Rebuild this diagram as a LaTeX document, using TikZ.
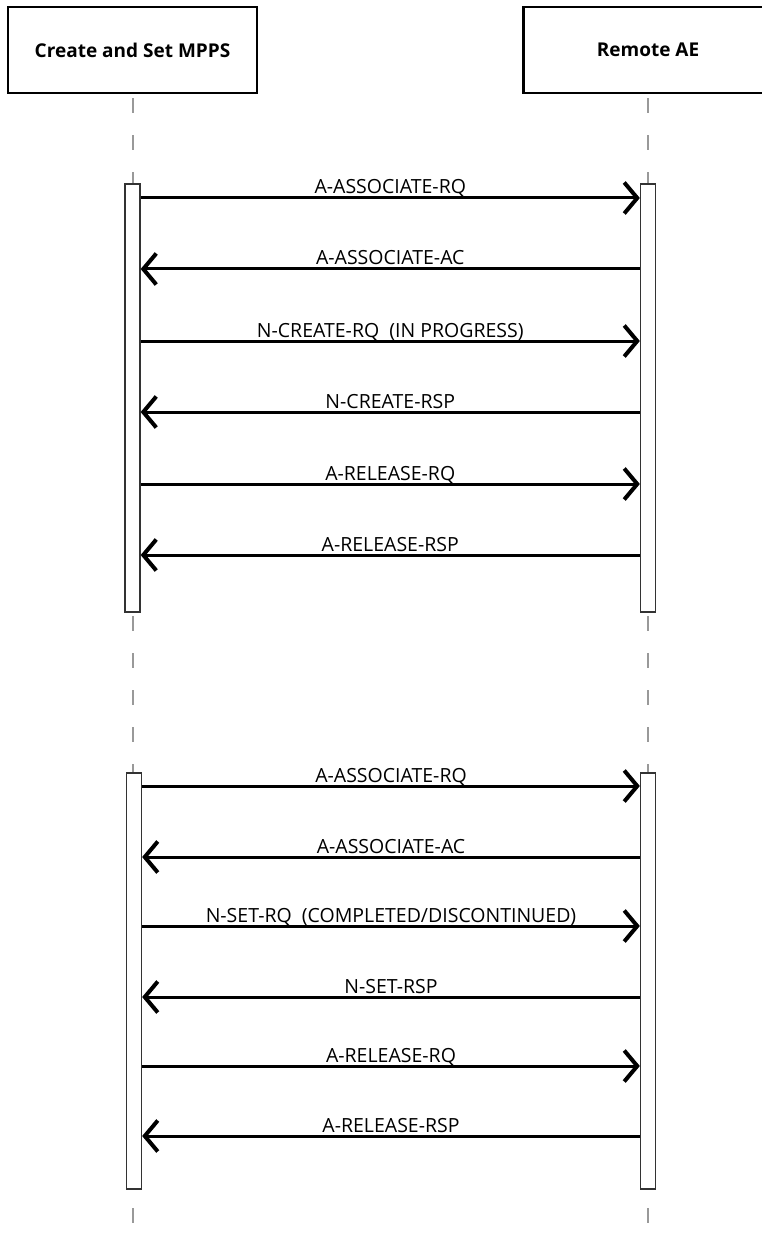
\documentclass[tikz,border=0pt]{standalone}
\usepackage{fontspec}
\setmainfont{Open Sans}
\usetikzlibrary{arrows.meta}

\begin{document}
\begin{tikzpicture}[x=1pt,y=-1pt,>={Straight Barb[length=13pt,width=31pt,line width=4pt]},
                    font=\fontsize{19.5}{23}\selectfont]
  \tikzstyle{actor}=[rectangle,draw=black,line width=2.3pt,fill=white,minimum width=249,minimum height=86,font=\fontsize{19}{23}\selectfont\bfseries]
  \tikzstyle{lifeline}=[draw=black!40,line width=2pt,dash pattern=on 15pt off 22pt]
  \tikzstyle{activation}=[rectangle,draw=black!80,line width=1.3pt,fill=white,minimum width=15,inner sep=0pt]
  \tikzstyle{signal}=[->,line width=3pt]
  \tikzstyle{tag}=[anchor=base,yshift=4pt,inner sep=0pt]

  \useasboundingbox (0,0) rectangle (761,1238);

  \node[actor] (C) at (132.5,50) {Create and Set MPPS};
  \node[actor] (R) at (648,50) {Remote AE};

  \coordinate (Cend) at (132.5,1245);
  \coordinate (Rend) at (648,1245);
  \draw[lifeline] ([yshift=-4pt]C.south) -- (Cend);
  \draw[lifeline] ([yshift=-4pt]R.south) -- (Rend);

  \node[activation,minimum height=428] (C1) at (132.5,398) {};
  \node[activation,minimum height=428] (R1) at (648,398) {};
  \node[activation,minimum height=416] (C2) at (134,981) {};
  \node[activation,minimum height=416] (R2) at (648,981) {};

  \path[signal]
(C1.east |- 0,198) edge node[tag] {A-ASSOCIATE-RQ} (R1.west |- 0,198)
(R1.west |- 0,269) edge node[tag] {A-ASSOCIATE-AC} (C1.east |- 0,269)
(C1.east |- 0,341) edge node[tag] {N-CREATE-RQ\ \ (IN PROGRESS)} (R1.west |- 0,341)
(R1.west |- 0,412) edge node[tag] {N-CREATE-RSP} (C1.east |- 0,412)
(C1.east |- 0,484) edge node[tag] {A-RELEASE-RQ} (R1.west |- 0,484)
(R1.west |- 0,555) edge node[tag] {A-RELEASE-RSP} (C1.east |- 0,555);

  \path[signal]
(C2.east |- 0,786) edge node[tag] {A-ASSOCIATE-RQ} (R2.west |- 0,786)
(R2.west |- 0,857) edge node[tag] {A-ASSOCIATE-AC} (C2.east |- 0,857)
(C2.east |- 0,926) edge node[tag] {N-SET-RQ\ \ (COMPLETED/DISCONTINUED)} (R2.west |- 0,926)
(R2.west |- 0,997) edge node[tag] {N-SET-RSP} (C2.east |- 0,997)
(C2.east |- 0,1066) edge node[tag] {A-RELEASE-RQ} (R2.west |- 0,1066)
(R2.west |- 0,1136) edge node[tag] {A-RELEASE-RSP} (C2.east |- 0,1136);
\end{tikzpicture}
\end{document}
